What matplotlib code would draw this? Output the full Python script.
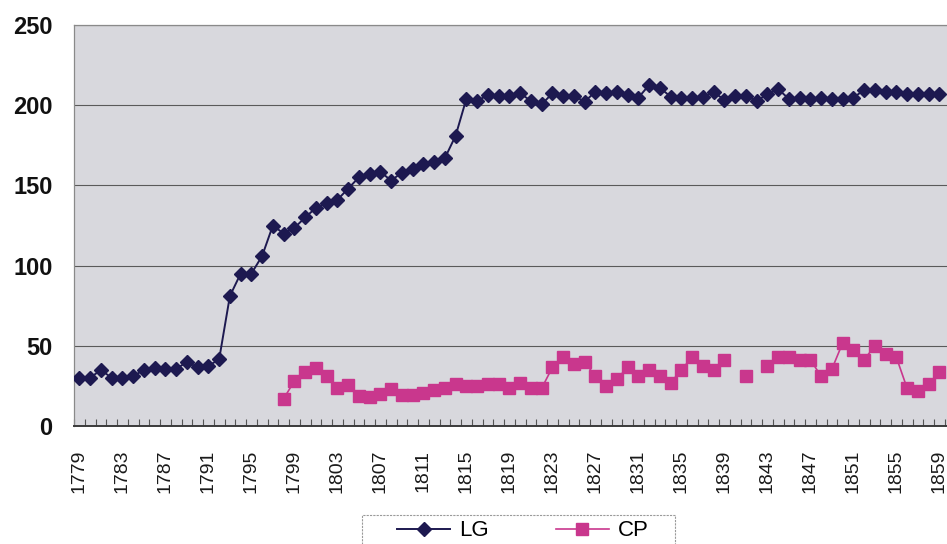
import numpy as np
import matplotlib
matplotlib.use("Agg")
import matplotlib.pyplot as plt
from matplotlib.patches import Rectangle
from matplotlib.ticker import FixedLocator

plt.rcParams['font.family'] = ['Liberation Sans', 'DejaVu Sans']

years = list(range(1779, 1860))

lg = [30, 30, 35, 30, 30, 31, 35, 36, 35.5, 35.5,          # 1779-1788
      40, 36.5, 37.5, 41.5, 81, 95, 95, 106, 125, 120,     # 1789-1798
      123.5, 130, 136, 139, 141, 148, 155, 157, 158.5, 153,  # 1799-1808
      158, 160, 163.5, 164.5, 167, 181, 204, 202.5, 206.5, 205.5,  # 1809-1818
      205.5, 207.5, 202.6, 200.5, 207.4, 205.9, 205.9, 202.2, 208.4, 207.4,  # 1819-1828
      208.4, 206.3, 204.7, 212.6, 210.9, 205.3, 204.7, 204.7, 205.3, 208,    # 1829-1838
      203.5, 205.9, 205.9, 202.6, 206.8, 210.1, 203.9, 204.3, 203.9, 204.7,  # 1839-1848
      203.9, 203.9, 204.7, 209.5, 209.5, 208, 208, 206.8, 206.8, 206.8,      # 1849-1858
      206.8]                                                                  # 1859

nan = np.nan
cp = [nan] * 19 + [                                     # 1779-1797
      17, 28, 33.5, 36, 31, 23.5, 25.5, 19, 18.3, 20,   # 1798-1807
      23, 19.3, 19.3, 20.5, 22.6, 24, 26, 24.7, 24.7, 26,  # 1808-1817
      26, 24, 27, 23.5, 23.5, 36.5, 43, 38.5, 40, 31,   # 1818-1827
      24.7, 29.3, 36.5, 31, 35, 31, 27, 35, 43, 37.6,   # 1828-1837
      35, 41.3, nan, 31, nan, 37.6, 42.8, 42.8, 41.3, 41.3,  # 1838-1847
      31, 35.5, 51.7, 47.5, 41.3, 50, 44.8, 42.8, 23.5, 22,  # 1848-1857
      26, 33.4]                                         # 1858-1859

series_names = ["LG", "CP"]
tick_years = list(range(1779, 1860, 4))
y_ticks = [0, 50, 100, 150, 200, 250]

W, H = 947, 544
fig = plt.figure(figsize=(W / 100, H / 100), dpi=100)
fig.patch.set_facecolor('white')

px_per_year = 10.75
left_px, top_px, bottom_px = 74, 25, 426
x0 = 1778.5
x1 = 1860.5
right_px = left_px + (x1 - x0) * px_per_year
ax = fig.add_axes([left_px / W, 1 - bottom_px / H,
                   (right_px - left_px) / W, (bottom_px - top_px) / H])
ax.set_facecolor('#d8d8dd')

lg_color = '#1d1950'
cp_color = '#c9378d'

ax.plot(years, lg, color=lg_color, lw=1.4, marker='D', ms=7.0,
        mfc=lg_color, mec=lg_color, label=series_names[0], zorder=4)
ax.plot(years, cp, color=cp_color, lw=1.2, marker='s', ms=9.0,
        mfc=cp_color, mec=cp_color, label=series_names[1], zorder=3)

ax.set_xlim(x0, x1)
ax.set_ylim(0, 250)

ax.yaxis.set_major_locator(FixedLocator(y_ticks))
ax.set_yticklabels([str(v) for v in y_ticks], fontsize=17, fontweight='bold', color='#111111')
ax.tick_params(axis='y', length=0, pad=15.5)
ax.grid(axis='y', color='#5a5a5a', lw=0.8, zorder=1)
ax.set_axisbelow(True)

ax.xaxis.set_major_locator(FixedLocator(tick_years))
ax.set_xticklabels([str(y) for y in tick_years], rotation=90, fontsize=14,
                   color='#1a1a1a', va='top', ha='center')
ax.tick_params(axis='x', which='major', length=0, pad=17)
ax.xaxis.set_minor_locator(FixedLocator(np.arange(1778.5, 1861, 1.0)))
ax.tick_params(axis='x', which='minor', direction='in', length=5, width=0.8, color='#555555')

for side in ['left', 'top']:
    ax.spines[side].set_color('#8a8a8a')
    ax.spines[side].set_linewidth(0.9)
ax.spines['bottom'].set_color('#3a3a3a')
ax.spines['bottom'].set_linewidth(1.4)
ax.spines['right'].set_visible(False)

# legend
fig.patches.append(Rectangle((362 / W, -0.05), 313 / W, 0.05 + (1 - 515 / H),
                             transform=fig.transFigure, fill=False,
                             edgecolor='#9a9a9a', lw=0.8, linestyle=(0, (2, 1))))
fig.legend(loc='center left', bbox_to_anchor=(397 / W, 1 - 531 / H),
           ncol=2, frameon=False, fontsize=16, borderpad=0, borderaxespad=0,
           handlelength=2.4, handletextpad=0.4, columnspacing=3.0, numpoints=1)

fig.savefig('out.png', dpi=100)
